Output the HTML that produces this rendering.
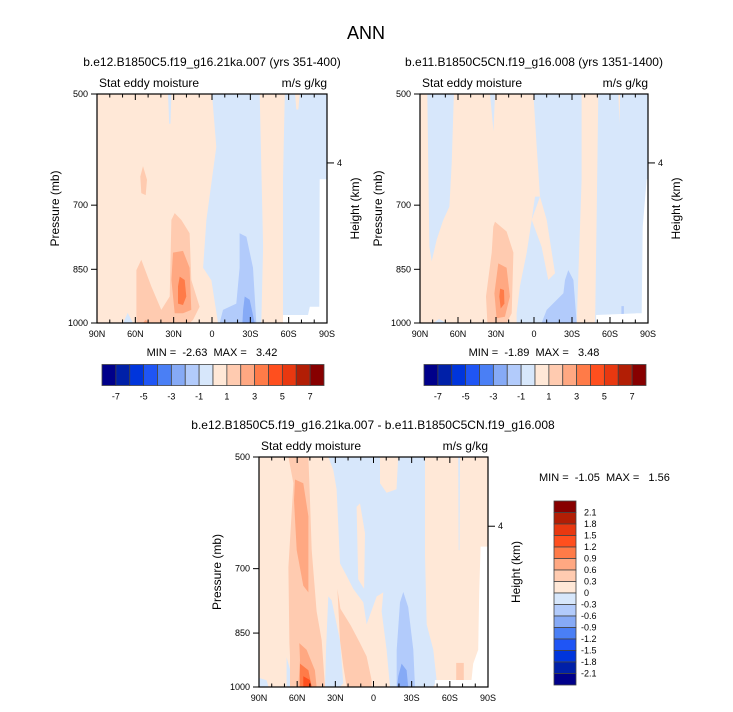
<!DOCTYPE html>
<html><head><meta charset="utf-8">
<style>
html,body{margin:0;padding:0;background:#fff;}
svg{display:block;font-family:"Liberation Sans",Arial,sans-serif;}
</style></head>
<body>
<svg id="fig" width="733" height="712" viewBox="0 0 733 712" xmlns="http://www.w3.org/2000/svg">
<text x="366" y="39" font-size="18" text-anchor="middle">ANN</text>
</svg>
<script>
// ---- data ----
const latTicks = [90, 60, 30, 0, -30, -60, -90];
const latTickLabels = ["90N", "60N", "30N", "0", "30S", "60S", "90S"];
const presTicks = [500, 700, 850, 1000];
const heightTicks = [4];
const heightTickPres = [616];
const colorLevels = ["#00008a","#0020a8","#0035dc","#1f55f5","#4a7ff5","#86aaf6","#b2cbfb","#d7e7fb","#ffe8d7","#ffcbb0","#ffa882","#ff7b48","#ff4f1e","#e83810","#b21e05","#870000"];
const cbLabelsTop = ["-7","-5","-3","-1","1","3","5","7"];
const cbLabelsTopIdx = [1,3,5,7,9,11,13,15];
const cbLabelsSide = ["2.1","1.8","1.5","1.2","0.9","0.6","0.3","0","-0.3","-0.6","-0.9","-1.2","-1.5","-1.8","-2.1"];

// shapes: [level, [[lat,p],...]] ; 'W' = missing (white)
const panel1Shapes = [
 [-1, [[0,500],[-3.4,587],[4.4,732],[7,846],[0.5,879],[-4.7,1000],[-38.6,1000],[-40,794],[-37.3,500]]],
 [-1, [[-57,500],[-90,500],[-90,1000],[-55.6,1000],[-55.6,647]]],
 [1, [[-65,500],[-68.6,500],[-67.5,524],[-66,524]]],
 [-1, [[34.4,500],[31.8,500],[32.5,547],[33.5,547]]],
 [-1, [[69.6,1000],[66,970],[61.8,1000]]],
 [2, [[59.2,1000],[59.2,852],[55.3,826],[47.5,895],[39.7,961],[33.1,923],[31.8,732],[29.2,717],[24,732],[17.5,762],[16.2,878],[9.7,952],[14.9,991],[17.5,1000]]],
 [2, [[54,622],[50.9,648],[51.9,679],[55.3,675],[56.1,642]]],
 [3, [[30.5,808],[22.7,804],[17.5,846],[16.2,961],[22.7,971],[29.2,971],[31.8,878]]],
 [3, [[54,1000],[52,990],[49,1000]]],
 [4, [[25.3,869],[21.4,878],[20.1,923],[22.7,947],[26.6,943],[26.6,895]]],
 [-2, [[-21.6,762],[-26.9,770],[-32.1,846],[-34.7,1000],[-6,1000],[-8.6,961],[-19,943],[-21.6,846]]],
 [-3, [[-25.6,923],[-29.5,932],[-33.4,1000],[-23.8,1000],[-24.3,961]]],
 ['W', [[-84.3,647],[-90,647],[-90,1000],[-55.6,1000],[-55.6,976],[-75.1,976],[-76.5,952],[-84,952]]]
];
const panel2Shapes = [
 [-1, [[84.2,500],[63.2,500],[65,617],[66.8,703],[71.6,732],[76.8,777],[80.8,830],[82.6,794]]],
 [-1, [[0.5,500],[-37.6,500],[-37.6,649],[-33.7,1000],[13.7,1000],[13.7,971],[11.1,895],[5.8,808],[1.8,732],[-0.8,682],[-4.7,682],[-2.1,587]]],
 [1, [[-4.7,682],[-10,732],[-16.6,860],[-11.3,878],[-6,794],[1.8,732]]],
 [-1, [[-50.8,500],[-90,500],[-90,1000],[-48.2,1000],[-49.5,717]]],
 [1, [[-66.6,500],[-68,500],[-67.4,547]]],
 [-1, [[34.7,500],[30.8,500],[32,560]]],
 [-1, [[79.5,1000],[75,988],[69,1000]]],
 [-2, [[-27.1,852],[-31.1,878],[-33.7,1000],[-6,1000],[-10,961],[-23.2,914],[-24.5,878]]],
 [-2, [[-69,950],[-71,950],[-71,976],[-69,976]]],
 [2, [[30.8,736],[21.6,758],[16.3,808],[17.6,971],[21.6,1000],[36.8,1000],[37.9,923],[33.4,808],[32.1,747]]],
 [3, [[28.2,835],[21.6,846],[19,923],[23,981],[29.5,986],[31.3,914]]],
 [4, [[26.8,901],[23.7,905],[23.4,943],[26.3,957],[27.4,923]]],
 ['W', [[-89,647],[-90,647],[-90,1000],[-49,1000],[-49,976],[-81,971],[-85,971],[-85.8,748]]]
];
const panel3Shapes = [
 [-1, [[35.5,500],[-40.5,500],[-40.5,672],[-41.8,828],[-47,894],[-49.6,979],[-47,1000],[-13,1000],[-10.3,894],[-6.4,796],[-7.7,752],[-2.5,761],[5.4,828],[8,775],[15.9,744],[21,716],[26.3,689],[29,551],[31.6,520]]],
 [1, [[13.3,581],[10.6,575],[6.7,629],[7.4,744],[12,723]]],
 [1, [[-5.1,500],[-19.4,500],[-18.1,551],[-10.3,557],[-5.1,541]]],
 [-1, [[35.5,761],[32.9,770],[26.3,869],[23.7,989],[26.3,1000],[38.1,1000],[37.3,894]]],
 [-1, [[90,973],[84,980],[82.5,1000],[90,1000]]],
 [-1, [[68.3,914],[61.7,1000],[68.3,1000]]],
 [-1, [[-66.6,500],[-68,500],[-67.6,662],[-67,662]]],
 [2, [[66.9,500],[51.2,500],[49.9,570],[48.6,662],[44.7,796],[40.7,869],[38.1,1000],[65.6,1000],[65.6,912],[66.1,876],[66.9,697],[63,541]]],
 [2, [[28.4,744],[26,790],[18,830],[10.6,876],[5.4,912],[1.5,979],[1.5,1000],[21.1,1000],[23.7,939],[26.3,869]]],
 [2, [[-65,930],[-71,930],[-71,979],[-65,979]]],
 [3, [[61.7,535],[55.2,541],[51.2,598],[51.2,752],[55.2,737],[60.4,662],[62.5,570]]],
 [3, [[58.3,876],[52.6,894],[46.1,951],[44.7,1000],[59.1,1000],[57.8,922]]],
 [4, [[57.8,932],[51.2,951],[48.6,1000],[57.8,1000]]],
 [5, [[55.2,968],[50,979],[48.6,1000],[55.2,1000]]],
 [-2, [[-23.4,751],[-27.3,786],[-31.3,894],[-32.6,1000],[-18.2,1000],[-18.2,894],[-20.8,775]]],
 [-3, [[-22.1,932],[-26,951],[-27.3,1000],[-18.5,1000],[-19.5,968]]],
 ['W', [[-84.2,655],[-90,655],[-90,1000],[-48.3,1000],[-48.3,979],[-77,979],[-78.4,932],[-82.3,894],[-83.1,752]]]
];

// ---- drawing ----
const NS = "http://www.w3.org/2000/svg";
const svg = document.getElementById('fig');
function mk(tag, attrs, parent) {
  const e = document.createElementNS(NS, tag);
  for (const k in attrs) e.setAttribute(k, attrs[k]);
  (parent || svg).appendChild(e);
  return e;
}
function levelColor(lv) {
  if (lv === 'W') return '#ffffff';
  return lv > 0 ? colorLevels[7 + lv] : colorLevels[8 + lv];
}
function drawPanel(cfg) {
  const {L, T, W, H, shapes, name} = cfg;
  const xs = lat => L + (90 - lat) / 180 * W;
  const ys = p => T + Math.log2(p / 500) * H;
  const g = mk('g', {});
  
  
  const bg = mk('rect', {x: L, y: T, width: W, height: H, fill: levelColor(1)}, g);
  
  
  shapes.forEach(s => {
    const pts = s[1].map(q => xs(q[0]).toFixed(1) + ',' + ys(q[1]).toFixed(1)).join(' ');
    const poly = mk('polygon', {points: pts, fill: levelColor(s[0]), stroke: 'none'}, g);
    
    
  });
  const fr = mk('rect', {x: L, y: T, width: W, height: H, fill: 'none', stroke: '#000', 'stroke-width': 1.2}, g);
  
  
  for (let lat = 90; lat >= -90; lat -= 10) {
    const major = lat % 30 === 0;
    const len = major ? 6 : 3.5;
    mk('line', {x1: xs(lat), x2: xs(lat), y1: T + H, y2: T + H - len, stroke: '#000', 'stroke-width': 1}, g);
    mk('line', {x1: xs(lat), x2: xs(lat), y1: T, y2: T + len, stroke: '#000', 'stroke-width': 1}, g);
  }
  latTicks.forEach((lat, i) => {
    const t = mk('text', {x: xs(lat), y: T + H + 14, 'font-size': 9, 'text-anchor': 'middle'}, g);
    t.textContent = latTickLabels[i];
    
    
  });
  presTicks.forEach(p => {
    mk('line', {x1: L, x2: L - 6, y1: ys(p), y2: ys(p), stroke: '#000', 'stroke-width': 1}, g);
    const t = mk('text', {x: L - 9, y: ys(p) + 3, 'font-size': 9, 'text-anchor': 'end'}, g);
    t.textContent = String(p);
    
    
  });
  heightTicks.forEach((h, i) => {
    const yy = ys(heightTickPres[i]);
    mk('line', {x1: L + W, x2: L + W + 7, y1: yy, y2: yy, stroke: '#000', 'stroke-width': 1}, g);
    const t = mk('text', {x: L + W + 10, y: yy + 3, 'font-size': 9}, g);
    t.textContent = String(h);
    
    
  });
  const cx = L - 38, cy = T + H / 2;
  const yl = mk('text', {x: cx, y: cy, 'font-size': 12, 'text-anchor': 'middle', transform: `rotate(-90 ${cx} ${cy})`}, g);
  yl.textContent = 'Pressure (mb)';
  
  
  const rx = L + W + 32;
  const hl = mk('text', {x: rx, y: cy, 'font-size': 12, 'text-anchor': 'middle', transform: `rotate(-90 ${rx} ${cy})`}, g);
  hl.textContent = 'Height (km)';
  
  
  const ls = mk('text', {x: L + 2, y: T - 7, 'font-size': 12}, g);
  ls.textContent = 'Stat eddy moisture';
  
  
  const rs = mk('text', {x: L + W, y: T - 7, 'font-size': 12, 'text-anchor': 'end'}, g);
  rs.textContent = 'm/s g/kg';
  
  
  const tt = mk('text', {x: cfg.titleX, y: T - 28, 'font-size': 12, 'text-anchor': 'middle'}, g);
  tt.textContent = cfg.title;
  
  
  const mm = mk('text', {x: cfg.mmX, y: cfg.mmY, 'font-size': 11, 'text-anchor': cfg.mmAnchor, style: 'white-space:pre'}, g);
  mm.textContent = cfg.minmax;
  
  
}
function hColorbar(x0, x1, y0, y1) {
  const g = mk('g', {});
  
  
  const w = (x1 - x0) / colorLevels.length;
  colorLevels.forEach((c, i) => {
    const r = mk('rect', {x: x0 + i * w, y: y0, width: w, height: y1 - y0, fill: c, stroke: '#444', 'stroke-width': 0.8}, g);
    
    
  });
  cbLabelsTop.forEach((lab, i) => {
    const t = mk('text', {x: x0 + cbLabelsTopIdx[i] * w, y: y1 + 14, 'font-size': 9, 'text-anchor': 'middle'}, g);
    t.textContent = lab;
    
    
  });
}
function vColorbar(x0, x1, y0, y1) {
  const g = mk('g', {});
  
  
  const h = (y1 - y0) / colorLevels.length;
  colorLevels.slice().reverse().forEach((c, i) => {
    const r = mk('rect', {x: x0, y: y0 + i * h, width: x1 - x0, height: h, fill: c, stroke: '#444', 'stroke-width': 0.8}, g);
    
    
  });
  cbLabelsSide.forEach((lab, i) => {
    const t = mk('text', {x: x1 + (lab.startsWith('-') ? 5 : 8), y: y0 + (i + 1) * h + 3, 'font-size': 9}, g);
    t.textContent = lab;
    
    
  });
}
drawPanel({name: 'panel-21ka', L: 97, T: 94, W: 230, H: 229, shapes: panel1Shapes,
  title: 'b.e12.B1850C5.f19_g16.21ka.007 (yrs 351-400)', titleX: 212,
  minmax: 'MIN =  -2.63  MAX =   3.42', mmX: 212, mmY: 356, mmAnchor: 'middle'});
drawPanel({name: 'panel-control', L: 420, T: 94, W: 228, H: 229, shapes: panel2Shapes,
  title: 'b.e11.B1850C5CN.f19_g16.008 (yrs 1351-1400)', titleX: 534,
  minmax: 'MIN =  -1.89  MAX =   3.48', mmX: 534, mmY: 356, mmAnchor: 'middle'});
drawPanel({name: 'panel-difference', L: 259, T: 457, W: 229, H: 230, shapes: panel3Shapes,
  title: 'b.e12.B1850C5.f19_g16.21ka.007 - b.e11.B1850C5CN.f19_g16.008', titleX: 373,
  minmax: 'MIN =  -1.05  MAX =   1.56', mmX: 539, mmY: 481, mmAnchor: 'start'});
hColorbar(102, 324, 364.5, 385.5);
hColorbar(424, 646, 364.5, 385.5);
vColorbar(554, 576, 501, 685);
</script>
</body></html>
